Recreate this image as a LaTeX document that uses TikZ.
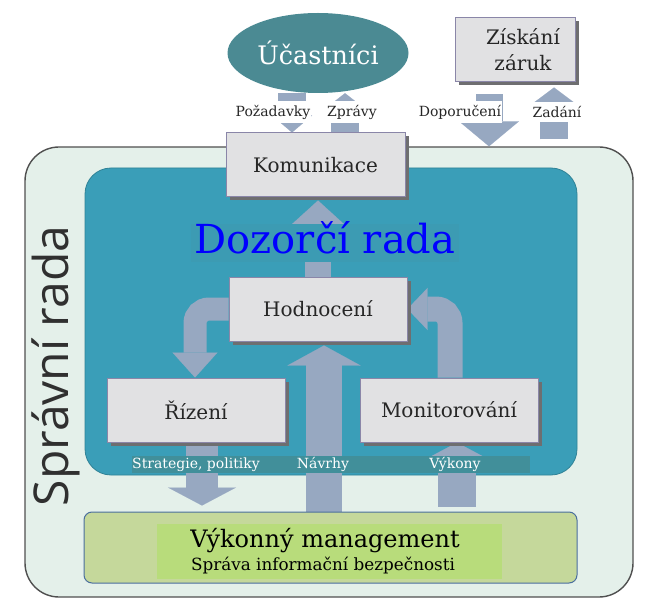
\documentclass[tikz,border=0pt]{standalone}
\usepackage{fontspec}
\setmainfont{DejaVu Serif}
\newfontfamily\sprfont{Open Sans}
\usetikzlibrary{arrows.meta,shapes.geometric,shadows}
\definecolor{arrc}{HTML}{97A8C1}
\definecolor{boxfill}{HTML}{E1E1E3}
\definecolor{boxline}{HTML}{8A86A8}
\definecolor{shadowc}{HTML}{6E6E70}
\definecolor{mint}{HTML}{E4F0EA}
\definecolor{outline}{HTML}{505050}
\definecolor{tealc}{HTML}{3A9EB8}
\definecolor{tealline}{HTML}{2F8296}
\definecolor{drpatch}{HTML}{3C9BB3}
\definecolor{stripc}{HTML}{418F9A}
\definecolor{ellc}{HTML}{4B8A93}
\definecolor{vmc}{HTML}{C5D89B}
\definecolor{vmline}{HTML}{4A6E9E}
\definecolor{vmin}{HTML}{B8DC7B}
\definecolor{sprc}{HTML}{303030}
\pgfdeclarelayer{bg}
\pgfsetlayers{bg,main}
\begin{document}
\begin{tikzpicture}[x=1pt,y=-1pt,
    box/.style = {draw=boxline, fill=boxfill, line width=1pt, minimum width=178pt, minimum height=64pt,
      font=\fontsize{20}{26}\selectfont, text=black!85,
      drop shadow={shadow xshift=3.5pt, shadow yshift=-3.5pt, fill=shadowc, opacity=1}},
    lbl/.style = {fill=white, inner xsep=1pt, inner ysep=4pt, font=\fontsize{14}{16}\selectfont, text=black!85},
    slbl/.style = {text=white, inner sep=0pt, font=\fontsize{14}{16}\selectfont},
    arr/.style n args = {3}{draw=arrc, line width=#1, -{Triangle[length=#2, width=#3, line width=0.1pt]}}]
    \useasboundingbox (0,0) rectangle (647,612);
    \begin{pgfonlayer}{bg}
    \node[draw=outline, fill=mint, line width=1.4pt, rounded corners=34pt, minimum width=608pt, minimum height=450pt] (spr) at (329,372) {};
    \node[draw=tealline, fill=tealc, line width=0.8pt, rounded corners=26pt, minimum width=492pt, minimum height=307pt] (dr) at (331,321.5) {};
    \end{pgfonlayer}
    \node[ellipse, fill=ellc, minimum width=180pt, minimum height=80pt, text=white, font=\fontsize{25.5}{30}\selectfont] (uc) at (318,53) {Účastníci};
    \node[box, minimum width=120pt, align=center, inner xsep=0pt, text width=104pt] (zis) at (515,50) {\hspace*{16pt}Získání\\\hspace*{16pt}záruk};
    \node[box, minimum width=179pt] (kom) at (315.5,165) {Komunikace};
    \node[box] (hod) at (318,309) {Hodnocení};
    \node[box] (riz) at (196,410) {Řízení};
    \node[box] (mon) at (449,410) {Monitorování};
    \node[draw=vmline, fill=vmc, line width=1pt, rounded corners=8pt, minimum width=493pt, minimum height=71pt] (vm) at (330.5,547.5) {};
    \node[fill=vmin, minimum width=345pt, minimum height=55pt] (vmi) at (329.5,551.5) {};
    \node[anchor=base, font=\fontsize{24}{28}\selectfont] (vmt) at (325,547) {Výkonný management};
    \node[anchor=base, font=\fontsize{16.8}{20}\selectfont] (vms) at (323,570) {Správa informační bezpečnosti};
    \coordinate (xpoz) at (292,0);
    \coordinate (xzpr) at (345,0);
    \coordinate (xdop) at (489,0);
    \coordinate (xzad) at (554,0);
    \coordinate (xnav) at (324,0);
    \coordinate (xstr) at (202,0);
    \coordinate (xvyk) at (457,0);
    \coordinate (xhr) at (195,0);
    \coordinate (xmh) at (450,0);
    \begin{pgfonlayer}{bg}
    \draw[arr={28pt}{17pt}{40pt}] (uc.south -| xpoz) -- (kom.north -| xpoz);
    \draw[arr={28pt}{14pt}{36pt}] (kom.north -| xzpr) -- (uc.south -| xzpr);
    \draw[arr={27pt}{25pt}{60pt}, shorten <=12pt] (zis.south -| xdop) -- (spr.north -| xdop);
    \draw[arr={28pt}{15pt}{40pt}, shorten <=7pt, shorten >=5pt] (spr.north -| xzad) -- (zis.south -| xzad);
    \draw[arr={26pt}{25pt}{55pt}, shorten >=3pt] (hod.north) -- (kom.south -| hod.north);
    \draw[arr={36pt}{20pt}{73pt}, shorten >=4pt] (vm.north -| xnav) -- (hod.south -| xnav);
    \draw[arr={32pt}{18pt}{68pt}, shorten >=6pt] (riz.south -| xstr) -- (vm.north -| xstr);
    \draw[arr={38pt}{16pt}{60pt}, shorten <=5pt] (vm.north -| xvyk) -- (mon.south -| xvyk);
    \draw[arr={23pt}{25pt}{45pt}, rounded corners=14pt] (hod.west) -| (riz.north -| xhr);
    \draw[arr={25pt}{20pt}{42pt}, rounded corners=14pt] (mon.north -| xmh) |- (hod.east);
    \end{pgfonlayer}
    \node[fill=stripc, minimum width=398pt, minimum height=17pt, inner sep=0pt] (strip) at (331,464.5) {};
    \node[slbl] (lstr) at (196,464.5) {Strategie, politiky};
    \node[slbl] (lnav) at (323,464.5) {Návrhy};
    \node[slbl] (lvyk) at (455,464.5) {Výkony};
    \node[lbl] (lpoz) at (273,112) {Požadavky};
    \node[lbl] (lzpr) at (352,112) {Zprávy};
    \node[lbl] (ldop) at (460,112) {Doporučení};
    \node[lbl] (lzad) at (557,112) {Zadání};
    \node[anchor=base, fill=drpatch, text=blue, font=\fontsize{40}{44}\selectfont, text height=29pt, text depth=9pt, inner xsep=4pt, inner ysep=0pt] (drt) at (325,253) {Dozorčí rada};
    \node[rotate=90, anchor=base, text=sprc, font=\sprfont\fontsize{48}{52}\selectfont] (sprt) at (68,366) {Správní rada};
\end{tikzpicture}
\end{document}
